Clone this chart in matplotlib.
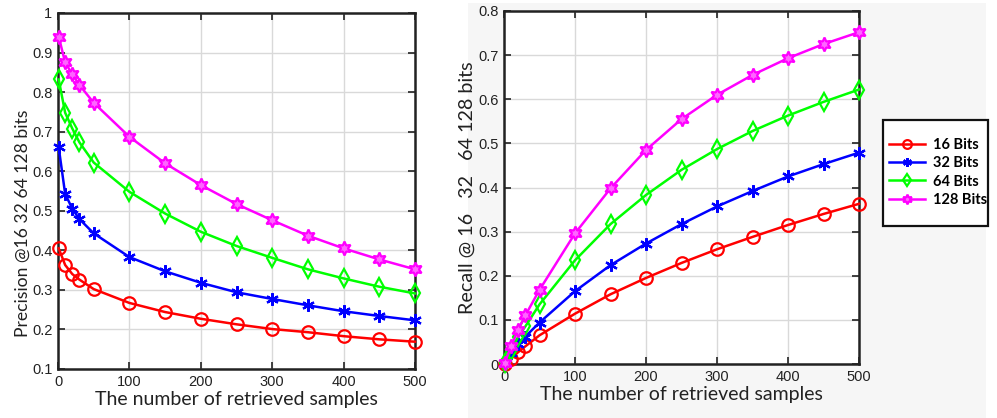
import matplotlib
matplotlib.use("Agg")
import matplotlib.pyplot as plt
from matplotlib.patches import Rectangle

# Number of retrieved samples
samples = [1, 10, 20, 30, 50, 100, 150, 200, 250, 300, 350, 400, 450, 500]

# Precision curves
prec_16 = [0.405, 0.363, 0.340, 0.326, 0.302, 0.267, 0.244, 0.227, 0.213, 0.201, 0.193, 0.183, 0.175, 0.169]
prec_32 = [0.660, 0.543, 0.505, 0.479, 0.443, 0.383, 0.347, 0.318, 0.294, 0.277, 0.261, 0.246, 0.234, 0.223]
prec_64 = [0.832, 0.748, 0.708, 0.673, 0.622, 0.548, 0.493, 0.447, 0.411, 0.381, 0.352, 0.329, 0.308, 0.291]
prec_128 = [0.940, 0.875, 0.845, 0.818, 0.773, 0.687, 0.620, 0.565, 0.517, 0.476, 0.437, 0.405, 0.377, 0.352]

# Recall curves
rec_16 = [0.001, 0.012, 0.027, 0.040, 0.065, 0.114, 0.158, 0.195, 0.229, 0.260, 0.288, 0.315, 0.340, 0.363]
rec_32 = [0.002, 0.025, 0.045, 0.062, 0.094, 0.165, 0.224, 0.273, 0.317, 0.357, 0.392, 0.425, 0.453, 0.479]
rec_64 = [0.002, 0.030, 0.062, 0.085, 0.135, 0.235, 0.317, 0.383, 0.440, 0.487, 0.528, 0.563, 0.594, 0.622]
rec_128 = [0.003, 0.040, 0.078, 0.110, 0.168, 0.296, 0.398, 0.485, 0.555, 0.610, 0.655, 0.693, 0.725, 0.752]

labels = ["16 Bits", "32 Bits", "64 Bits", "128 Bits"]
colors = ["#ff0000", "#0000ff", "#00ff00", "#ff00ff"]
markers = ["o", (6, 2, 0), "d", (6, 1, 0)]
msizes = [9, 9, 9, 10]
faces = ["none", "none", "none", "#ff66ff"]

W, H = 997, 418
fig = plt.figure(figsize=(W / 100, H / 100), dpi=100)
fig.patch.set_facecolor("white")
fig.add_artist(Rectangle((468 / W, 0), (986 - 468) / W, 1 - 3 / H, transform=fig.transFigure,
                         facecolor="#f6f6f6", edgecolor="none", zorder=0))

tick_font = "Liberation Sans"
label_font = "Lato"


def panel(rect, series, ylim, yticks, ylabel, ylabel_size):
    ax = fig.add_axes(rect)
    ax.set_facecolor("white")
    for vals, c, m, ms, fc, lab in zip(series, colors, markers, msizes, faces, labels):
        ax.plot(samples, vals, color=c, lw=1.8, marker=m, ms=ms,
                markerfacecolor=fc, markeredgecolor=c, markeredgewidth=1.6,
                label=lab, clip_on=False, zorder=3)
    ax.set_xlim(0, 500)
    ax.set_ylim(*ylim)
    ax.set_xticks(range(0, 501, 100))
    ax.set_yticks(yticks)
    ax.set_yticklabels([("%g" % t) for t in yticks])
    ax.grid(True, color="#d9d9d9", lw=1.0)
    ax.set_axisbelow(True)
    ax.tick_params(direction="in", length=5, width=1.2, top=True, right=True,
                   labelsize=10.5, pad=4, colors="#222222")
    for lab in ax.get_xticklabels() + ax.get_yticklabels():
        lab.set_fontfamily(tick_font)
    for s in ax.spines.values():
        s.set_linewidth(1.8)
        s.set_color("#222222")
    ax.set_xlabel("The number of retrieved samples", fontsize=14,
                  fontfamily=label_font, labelpad=2, color="#222222")
    ax.set_ylabel(ylabel, fontsize=ylabel_size, fontfamily=label_font,
                  color="#222222")
    return ax


ax1 = panel([58 / W, 1 - 369 / H, (415 - 58) / W, (369 - 13) / H],
            [prec_16, prec_32, prec_64, prec_128], (0.1, 1.0),
            [0.1, 0.2, 0.3, 0.4, 0.5, 0.6, 0.7, 0.8, 0.9, 1.0],
            "Precision @16 32 64 128 bits", 12.6)
ax1.yaxis.set_label_coords(-0.075, 0.41)

ax2 = panel([504 / W, 1 - 364 / H, (859 - 504) / W, (364 - 11) / H],
            [rec_16, rec_32, rec_64, rec_128], (0, 0.8),
            [0, 0.1, 0.2, 0.3, 0.4, 0.5, 0.6, 0.7, 0.8],
            "Recall @ 16   32   64 128 bits", 14.2)
ax2.yaxis.set_label_coords(-0.079, 0.5)

# Legend frame with generous vertical padding
fig.add_artist(Rectangle((883 / W, 1 - 226 / H), (988 - 883) / W, (226 - 120) / H,
                         transform=fig.transFigure, facecolor="white",
                         edgecolor="#111111", lw=1.6, zorder=4))
handles, labs = ax2.get_legend_handles_labels()
leg = fig.legend(handles, labs, loc="center left",
                 bbox_to_anchor=(889 / W, 1 - 172.5 / H), bbox_transform=fig.transFigure,
                 prop={"family": "Lato", "weight": "bold", "size": 10.5},
                 frameon=False, handlelength=2.5, handletextpad=0.55,
                 labelspacing=0.28, borderpad=0, borderaxespad=0, markerscale=0.7)
leg.set_zorder(5)

fig.savefig("out.png", dpi=100)
